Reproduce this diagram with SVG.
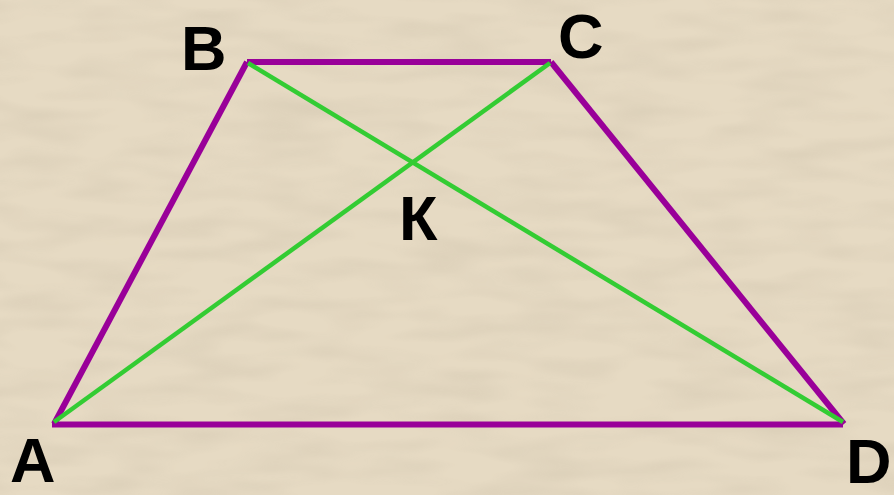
<svg xmlns="http://www.w3.org/2000/svg" width="894" height="495" viewBox="0 0 894 495">
<style>
.side{stroke:#990099;stroke-width:6;fill:none;stroke-linecap:butt}
.diag{stroke:#33cc33;stroke-width:4.5;fill:none}
.lbl{font-family:"Liberation Sans",Arial,sans-serif;font-weight:bold;font-size:63px;fill:#000}
</style>
<defs>
<filter id="tex" x="0" y="0" width="100%" height="100%">
<feTurbulence type="fractalNoise" baseFrequency="0.012 0.05" numOctaves="2" seed="3" result="n"/>
<feColorMatrix in="n" type="matrix" values="0 0 0 0 0.55  0 0 0 0 0.48  0 0 0 0 0.36  0 0 0 -1.2 0.75"/>
</filter>
</defs>
<g id="background">
<rect width="894" height="495" fill="#e6dac3"/>
<rect width="894" height="495" filter="url(#tex)" opacity="0.45"/>
</g>
<g id="connectors">
<line class="side" x1="247" y1="62" x2="551" y2="62"/>
<line class="side" x1="247" y1="62" x2="54" y2="424"/>
<line class="side" x1="551" y1="62" x2="844" y2="424"/>
<line class="side" x1="52" y1="424.5" x2="843" y2="424.5"/>
<line class="diag" x1="248" y1="63" x2="843" y2="422"/>
<line class="diag" x1="550" y1="63" x2="54" y2="422"/>
</g>
<g id="node-B"><text class="lbl" x="181" y="70">B</text></g>
<g id="node-C"><text class="lbl" x="558" y="58">C</text></g>
<g id="node-A"><text class="lbl" x="10" y="482">A</text></g>
<g id="node-D"><text class="lbl" x="846" y="483" font-size="58">D</text></g>
<g id="node-K"><text class="lbl" x="399" y="240">К</text></g>
</svg>
